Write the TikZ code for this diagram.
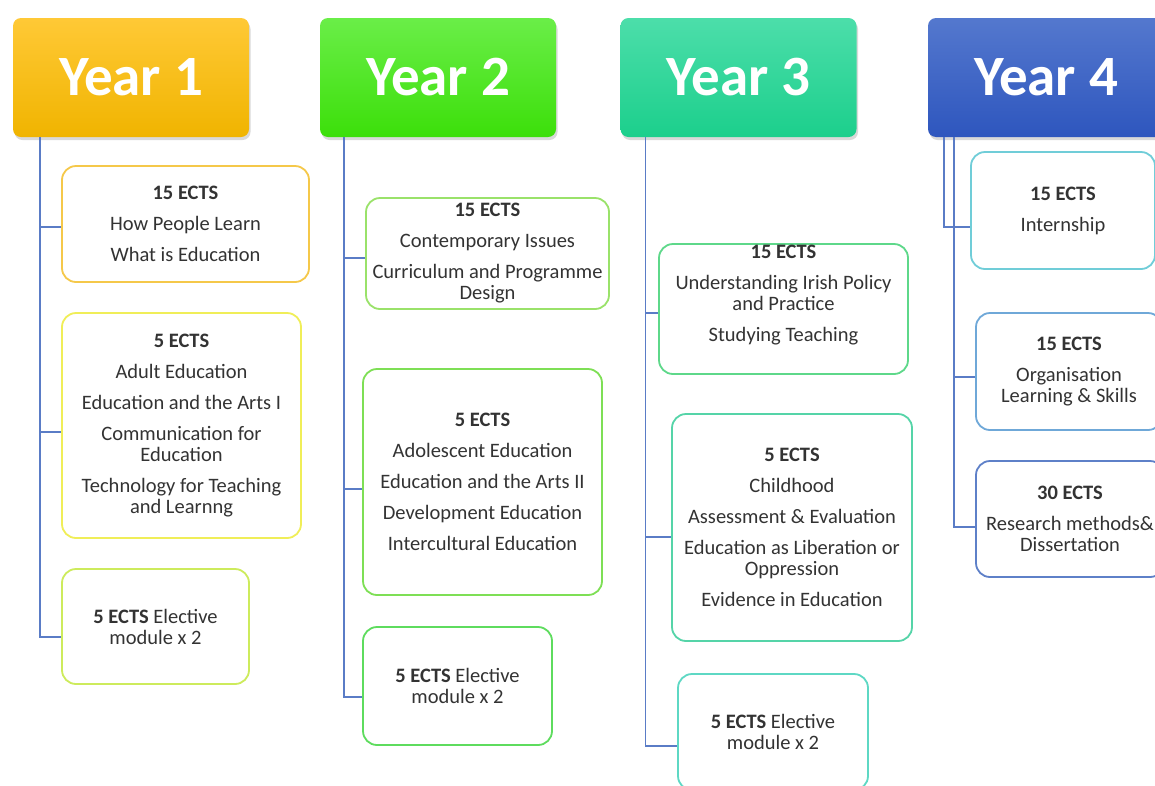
\documentclass[tikz,border=0pt]{standalone}
\usepackage{fontspec}
\setmainfont{Carlito}
\usetikzlibrary{shadows,calc}
\definecolor{linkblue}{HTML}{5A7CC6}
\definecolor{txt}{HTML}{333333}
\definecolor{h1t}{HTML}{FFC936}\definecolor{h1b}{HTML}{F0B400}
\definecolor{h2t}{HTML}{6AEE48}\definecolor{h2b}{HTML}{3CDF0A}
\definecolor{h3t}{HTML}{4CDEAA}\definecolor{h3b}{HTML}{1CCF8C}
\definecolor{h4t}{HTML}{5478CE}\definecolor{h4b}{HTML}{2E56BE}
\definecolor{c1a}{HTML}{F5C84A}\definecolor{c1b}{HTML}{F0EE58}\definecolor{c1c}{HTML}{CDEB5C}
\definecolor{c2a}{HTML}{9AE26A}\definecolor{c2b}{HTML}{7EDF55}\definecolor{c2c}{HTML}{5EDC5E}
\definecolor{c3a}{HTML}{5ED88A}\definecolor{c3b}{HTML}{55D4A8}\definecolor{c3c}{HTML}{5ED8C4}
\definecolor{c4a}{HTML}{70CDD8}\definecolor{c4b}{HTML}{6FA8D8}\definecolor{c4c}{HTML}{5E80C8}
\begin{document}
\begin{tikzpicture}[x=1pt,y=1pt,
  hdr/.style={rounded corners=8pt, minimum width=236pt, minimum height=119pt, inner sep=0pt,
    font=\fontsize{57}{60}\selectfont\bfseries, text=white,
    drop shadow={opacity=0.3, shadow xshift=1.5pt, shadow yshift=-3pt}},
  mod/.style={draw, line width=1.8pt, rounded corners=14pt, fill=white, align=center,
    inner sep=2pt, font=\fontsize{20.5}{21}\selectfont, text=txt},
  modtext/.style={align=center, inner sep=0pt, font=\fontsize{20.5}{21}\selectfont, text=txt},
  conn/.style={draw=linkblue, line width=1.6pt}
]
\useasboundingbox (0,0) rectangle (1155,-785);

% headers
\node[hdr, top color=h1t, bottom color=h1b] (h1) at (131,-77.5) {Year 1};
\node[hdr, top color=h2t, bottom color=h2b] (h2) at (438,-77.5) {Year 2};
\node[hdr, top color=h3t, bottom color=h3b] (h3) at (738.5,-77.5) {Year 3};
\node[hdr, top color=h4t, bottom color=h4b] (h4) at (1046,-77.5) {Year 4};

\coordinate (t1) at ($(h1.south west)+(27,0)$);
\coordinate (t2) at ($(h2.south west)+(24,0)$);
\coordinate (t3) at ($(h3.south west)+(25,0)$);
\coordinate (t4a) at ($(h4.south west)+(16,0)$);
\coordinate (t4b) at ($(h4.south west)+(26,0)$);

% Year 1
\node[mod, draw=c1a, minimum width=247pt, minimum height=116pt] (y1a) at (185.5,-224)
  {\textbf{15 ECTS}\\[10pt]How People Learn\\[10pt]What is Education};
\node[mod, draw=c1b, minimum width=239pt, minimum height=225pt] (y1b) at (181.5,-425.5)
  {\textbf{5 ECTS}\\[10pt]Adult Education\\[10pt]Education and the Arts I\\[10pt]Communication for\\Education\\[10pt]Technology for Teaching\\and Learnng};
\node[mod, draw=c1c, minimum width=187pt, minimum height=115pt] (y1c) at (155.5,-626.5)
  {\textbf{5 ECTS} Elective\\module x 2};

% Year 2
\node[mod, draw=c2a, minimum width=243pt, minimum height=111pt] (y2a) at (487.5,-253.5)
  {\textbf{15 ECTS}\\[10pt]Contemporary Issues\\[10pt]Curriculum and Programme\\Design};
\node[mod, draw=c2b, minimum width=239pt, minimum height=226pt] (y2b) at (482.5,-482)
  {\textbf{5 ECTS}\\[10pt]Adolescent Education\\[10pt]Education and the Arts II\\[10pt]Development Education\\[10pt]Intercultural Education};
\node[mod, draw=c2c, minimum width=189pt, minimum height=118pt] (y2c) at (457.5,-686)
  {\textbf{5 ECTS} Elective\\module x 2};

% Year 3
\node[mod, draw=c3a, minimum width=249pt, minimum height=130pt] (y3a) at (783.5,-309) {};
\node[modtext] (y3at) at (783.5,-295)
  {\textbf{15 ECTS}\\[10pt]Understanding Irish Policy\\and Practice\\[10pt]Studying Teaching};
\node[mod, draw=c3b, minimum width=240pt, minimum height=227pt] (y3b) at (792,-527.5)
  {\textbf{5 ECTS}\\[10pt]Childhood\\[10pt]Assessment \& Evaluation\\[10pt]Education as Liberation or\\Oppression\\[10pt]Evidence in Education};
\node[mod, draw=c3c, minimum width=190pt, minimum height=116pt] (y3c) at (773,-732)
  {\textbf{5 ECTS} Elective\\module x 2};

% Year 4
\node[mod, draw=c4a, minimum width=184pt, minimum height=117pt] (y4a) at (1063,-210.5)
  {\textbf{15 ECTS}\\[10pt]Internship};
\node[mod, draw=c4b, minimum width=186pt, minimum height=117pt] (y4b) at (1069,-371.5)
  {\textbf{15 ECTS}\\[10pt]Organisation\\Learning \& Skills};
\node[mod, draw=c4c, minimum width=188pt, minimum height=116pt] (y4c) at (1070,-519)
  {\textbf{30 ECTS}\\[10pt]Research methods\&\\Dissertation};

% connectors
\draw[conn] (t1) |- ([yshift=-3pt]y1a.west);
\draw[conn] (t1) |- ([yshift=-6.5pt]y1b.west);
\draw[conn] (t1) |- ([yshift=-10.5pt]y1c.west);
\draw[conn] (t2) |- ([yshift=-4.5pt]y2a.west);
\draw[conn] (t2) |- ([yshift=-7pt]y2b.west);
\draw[conn] (t2) |- ([yshift=-11pt]y2c.west);
\draw[conn] (t3) |- ([yshift=-4pt]y3a.west);
\draw[conn] (t3) |- ([yshift=-9.5pt]y3b.west);
\draw[conn] (t3) |- ([yshift=-14pt]y3c.west);
\draw[conn] (t4a) |- ([yshift=-16.5pt]y4a.west);
\draw[conn] (t4b) |- ([yshift=-5.5pt]y4b.west);
\draw[conn] (t4b) |- ([yshift=-8pt]y4c.west);
\end{tikzpicture}
\end{document}
